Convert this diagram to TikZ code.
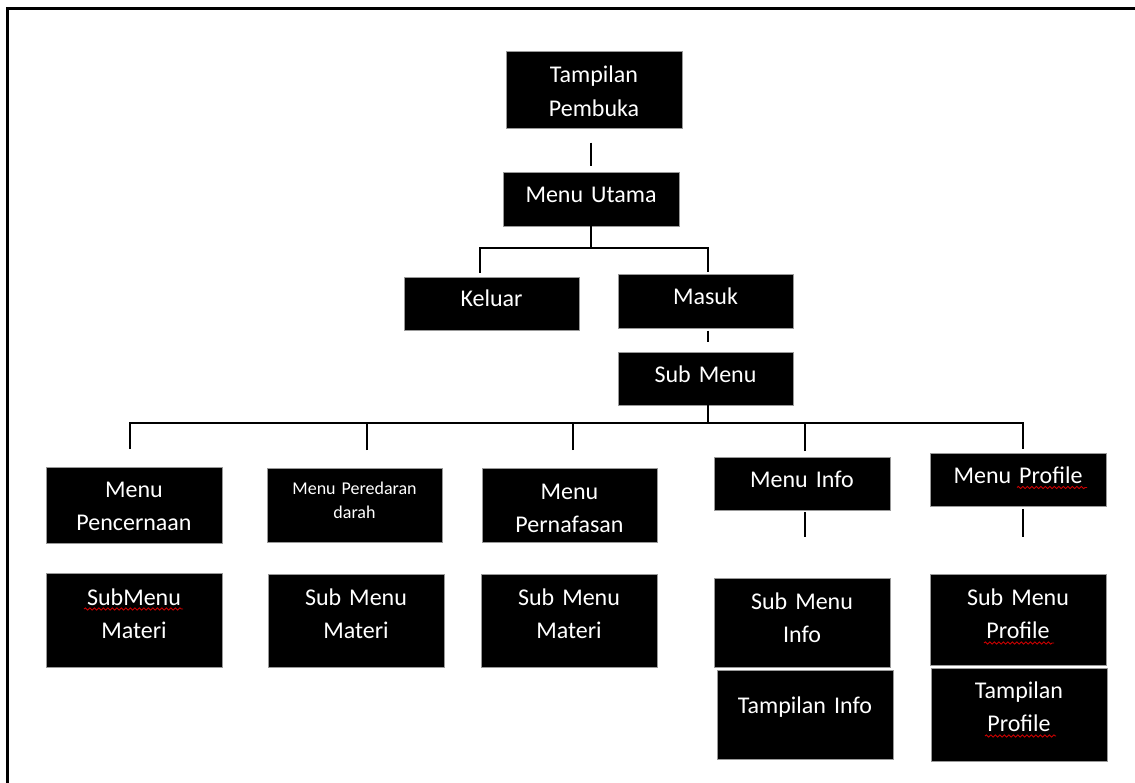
\documentclass[tikz,border=0pt]{standalone}
\usepackage{fontspec}
\setmainfont{Carlito}
\usetikzlibrary{calc,decorations.pathmorphing}
\begin{document}
\begin{tikzpicture}[x=1pt,y=1pt,
  box/.style={fill=black, draw=black!40, line width=0.8pt, inner sep=0pt},
  txt/.style={text=white, font=\fontsize{24}{33.5}\selectfont, align=center, anchor=base, inner sep=0pt, text width=170pt},
  smalltxt/.style={txt, font=\fontsize{18}{24}\selectfont},
  conn/.style={line width=2.3pt, black},
  frameline/.style={line width=3pt, black},
  squig/.style={draw=red!80!black, line width=0.9pt, decorate, decoration={snake, segment length=4.5pt, amplitude=1.1pt}}]

\useasboundingbox (0,0) rectangle (1135,-783);
\draw[frameline] (1140,-9) -- (7,-9) -- (7,-790);

% boxes
\node[box, minimum width=176pt, minimum height=77pt] (tp)  at (594,-89.5) {};
\node[box, minimum width=176pt, minimum height=54pt] (mu)  at (591,-199) {};
\node[box, minimum width=175pt, minimum height=53pt] (kel) at (491.5,-303.5) {};
\node[box, minimum width=175pt, minimum height=54pt] (mas) at (705.5,-301) {};
\node[box, minimum width=175pt, minimum height=53pt] (sm)  at (705.5,-378.5) {};
\node[box, minimum width=176pt, minimum height=76pt] (mpc) at (134,-505) {};
\node[box, minimum width=175pt, minimum height=74pt] (mpd) at (354.5,-505) {};
\node[box, minimum width=175pt, minimum height=74pt] (mpf) at (569.5,-505) {};
\node[box, minimum width=176pt, minimum height=53pt] (mi)  at (802,-483.5) {};
\node[box, minimum width=176pt, minimum height=53pt] (mp)  at (1018,-479.5) {};
\node[box, minimum width=176pt, minimum height=94pt] (s1)  at (134,-620) {};
\node[box, minimum width=176pt, minimum height=93pt] (s2)  at (356,-620.5) {};
\node[box, minimum width=176pt, minimum height=93pt] (s3)  at (569,-620.5) {};
\node[box, minimum width=176pt, minimum height=89pt] (smi) at (802,-622.5) {};
\node[box, minimum width=176pt, minimum height=91pt] (smp) at (1018,-619.5) {};
\node[box, minimum width=176pt, minimum height=89pt] (ti)  at (805,-714.5) {};
\node[box, minimum width=176pt, minimum height=93pt] (tpr) at (1019,-714.5) {};

% texts
\node[txt] (tpT)  at (594,-83) {Tampilan\\Pembuka};
\node[txt] (muT)  at (591,-203) {Menu Utama};
\node[txt] (kelT) at (491.5,-307) {Keluar};
\node[txt] (masT) at (705.5,-305) {Masuk};
\node[txt] (smT)  at (705.5,-383) {Sub Menu};
\node[txt] (mpcT) at (134,-497) {Menu\\Pencernaan};
\node[smalltxt] (mpdT) at (354.5,-494) {Menu Peredaran\\darah};
\node[txt] (mpfT) at (569.5,-499) {Menu\\Pernafasan};
\node[txt] (miT)  at (802,-487) {Menu Info};
\node[txt] (mpT)  at (1018,-483) {Menu Profile};
\node[txt] (s1T)  at (134,-605) {SubMenu\\Materi};
\node[txt] (s2T)  at (356,-605) {Sub Menu\\Materi};
\node[txt] (s3T)  at (569,-605) {Sub Menu\\Materi};
\node[txt] (smiT) at (802,-609) {Sub Menu\\Info};
\node[txt] (smpT) at (1018,-605) {Sub Menu\\Profile};
\node[txt] (tiT)  at (805,-713) {Tampilan Info};
\node[txt] (tprT) at (1019,-698) {Tampilan\\Profile};

% connectors
\draw[conn] ([yshift=29pt]mu.north) -- ([yshift=6pt]mu.north);
\coordinate (j1) at (591,-248);
\coordinate (k2) at (708,-248);
\coordinate (k1e) at (480,-273);
\coordinate (k2e) at (708,-272);
\draw[conn] (mu.south) -- (j1);
\draw[conn] (k1e) |- (k2) -- (k2e);
\draw[conn] ($(sm.north)+(2.5,21)$) -- ($(sm.north)+(2.5,10)$);
\coordinate (h0) at (708,-423);
\coordinate (hR) at (1023,-423);
\coordinate (d1) at (130,-449);
\coordinate (d2) at (367,-450);
\coordinate (d3) at (573,-450);
\coordinate (d4) at (805,-451);
\coordinate (d5) at (1023,-449);
\draw[conn] ($(sm.south)+(2.5,0)$) -- (h0);
\draw[conn] (d1) |- (hR) -- (d5);
\draw[conn] (d2) -- (d2 |- hR);
\draw[conn] (d3) -- (d3 |- hR);
\draw[conn] (d4) -- (d4 |- hR);
\draw[conn] ($(mi.south)+(3,-2)$) -- ($(mi.south)+(3,-27)$);
\draw[conn] ($(mp.south)+(5,-3)$) -- ($(mp.south)+(5,-31)$);

% spell-check squiggles
\draw[squig] (84,-609) -- (183,-609);
\draw[squig] (1017,-487.5) -- (1087,-487.5);
\draw[squig] (984,-643) -- (1054,-643);
\draw[squig] (985,-736) -- (1056,-736);
\end{tikzpicture}
\end{document}
